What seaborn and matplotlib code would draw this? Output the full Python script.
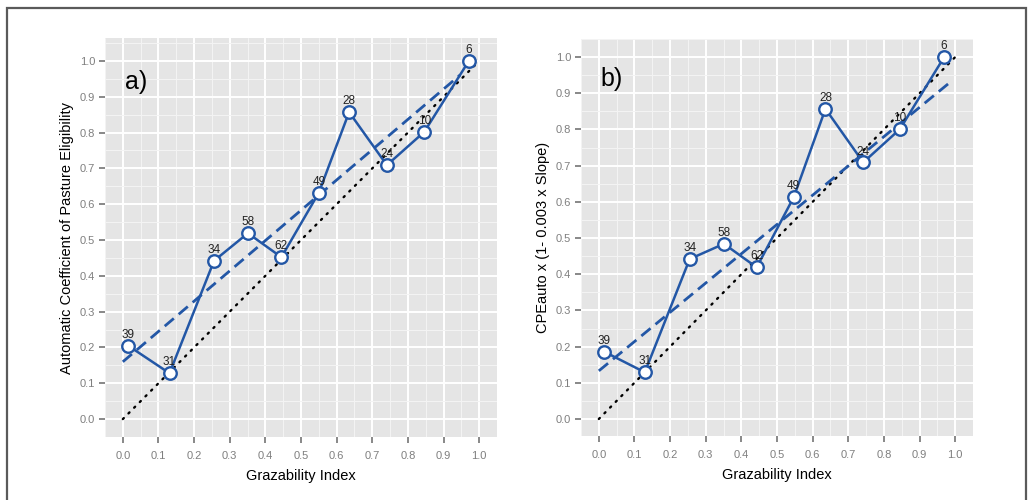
import matplotlib
matplotlib.use("Agg")
import matplotlib.pyplot as plt
import seaborn as sns
import numpy as np
import pandas as pd
from matplotlib.patches import Rectangle
from matplotlib.ticker import MultipleLocator

# ---------------- data ----------------
gi_a = [0.015, 0.131, 0.256, 0.351, 0.445, 0.550, 0.635, 0.741, 0.846, 0.971]
cpe_a = [0.205, 0.128, 0.442, 0.519, 0.452, 0.632, 0.857, 0.709, 0.802, 1.000]
counts_a = [39, 31, 34, 58, 62, 49, 28, 24, 10, 6]

gi_b = [0.015, 0.129, 0.255, 0.351, 0.443, 0.547, 0.636, 0.742, 0.845, 0.969]
cpe_b = [0.186, 0.129, 0.442, 0.484, 0.419, 0.613, 0.857, 0.709, 0.801, 1.000]
counts_b = [39, 31, 34, 58, 62, 49, 28, 24, 10, 6]

# fitted (dashed) lines: intercept, slope, x-range
fit_a = (0.160, 0.846)
fit_a_x = [0.0, 0.947]
fit_b = (0.133, 0.809)
fit_b_x = [0.0, 0.983]

identity_x = [0.0, 1.0]
ticks = [0.0, 0.1, 0.2, 0.3, 0.4, 0.5, 0.6, 0.7, 0.8, 0.9, 1.0]
tick_labels = ["0.0", "0.1", "0.2", "0.3", "0.4", "0.5", "0.6", "0.7", "0.8", "0.9", "1.0"]

xlabel = "Grazability Index"
ylabel_a = "Automatic Coefficient of Pasture Eligibility"
ylabel_b = "CPEauto x (1- 0.003 x Slope)"
panel_tags = ["a)", "b)"]

# ---------------- style ----------------
sns.set_theme(style="white")
plt.rcParams["font.family"] = ["Liberation Sans", "DejaVu Sans"]

BLUE = "#2357A6"
BG = "#E5E5E5"
TICKGREY = "#7F7F7F"

fig = plt.figure(figsize=(10.28, 5.0), dpi=100)
ax_a = fig.add_axes([105 / 1028, 1 - 437 / 500, 392 / 1028, 399 / 500])
ax_b = fig.add_axes([581 / 1028, 1 - 436 / 500, 392 / 1028, 397 / 500])


def draw_panel(ax, gi, cpe, counts, fit, fit_x, ylabel, tag, ylim):
    ax.set_facecolor(BG)
    for s in ax.spines.values():
        s.set_visible(False)
    ax.set_xlim(-0.05, 1.05)
    ax.set_ylim(*ylim)
    ax.set_xticks(ticks)
    ax.set_xticklabels(tick_labels)
    ax.set_yticks(ticks)
    ax.set_yticklabels(tick_labels)
    ax.xaxis.set_minor_locator(MultipleLocator(0.05))
    ax.yaxis.set_minor_locator(MultipleLocator(0.05))
    ax.grid(which="major", color="white", linewidth=1.4)
    ax.grid(which="minor", color="#F4F4F4", linewidth=0.7)
    ax.set_axisbelow(True)
    ax.tick_params(which="major", axis="both", direction="out", length=4,
                   width=1.3, color=TICKGREY, labelcolor=TICKGREY,
                   labelsize=8, pad=3, bottom=True, left=True)
    ax.tick_params(which="minor", length=0)
    ax.tick_params(axis="x", pad=6)

    # identity (dotted)
    ax.plot(identity_x, identity_x, color="black", linewidth=1.7,
            linestyle=(0, (0.6, 2.8)), dash_capstyle="round", zorder=2)
    # fitted (dashed)
    fx = np.array(fit_x)
    ax.plot(fx, fit[0] + fit[1] * fx, color=BLUE, linewidth=2.0,
            linestyle=(0, (4.3, 2.3)), zorder=3)
    # data line with open markers
    df = pd.DataFrame({"gi": gi, "cpe": cpe})
    sns.lineplot(data=df, x="gi", y="cpe", ax=ax, color=BLUE, linewidth=1.8,
                 marker="o", markersize=9, markerfacecolor="white",
                 markeredgecolor=BLUE, markeredgewidth=1.7, zorder=4)
    for x, y, c in zip(gi, cpe, counts):
        ax.annotate(str(c), (x, y), xytext=(0, 3.5), textcoords="offset points",
                    ha="center", va="bottom", fontsize=8.5, color="#222222",
                    zorder=5)
    ax.text(0.005, 0.94, tag, fontsize=18, color="black", ha="left",
            va="center", transform=ax.transData)
    ax.set_xlabel(xlabel, fontsize=10.5, color="black", labelpad=6)
    ax.set_ylabel(ylabel, fontsize=10.5, color="black", labelpad=4)


draw_panel(ax_a, gi_a, cpe_a, counts_a, fit_a, fit_a_x, ylabel_a,
           panel_tags[0], (-0.05, 1.064))
draw_panel(ax_b, gi_b, cpe_b, counts_b, fit_b, fit_b_x, ylabel_b,
           panel_tags[1], (-0.047, 1.05))

# outer frame
fig.patches.append(Rectangle((6.5 / 1028, -0.02), (1026 - 6.5) / 1028,
                             1.02 - 8.5 / 500, transform=fig.transFigure,
                             fill=False, edgecolor="#5A5A5A", linewidth=1.6,
                             zorder=10))

fig.savefig("out.png", dpi=100)
